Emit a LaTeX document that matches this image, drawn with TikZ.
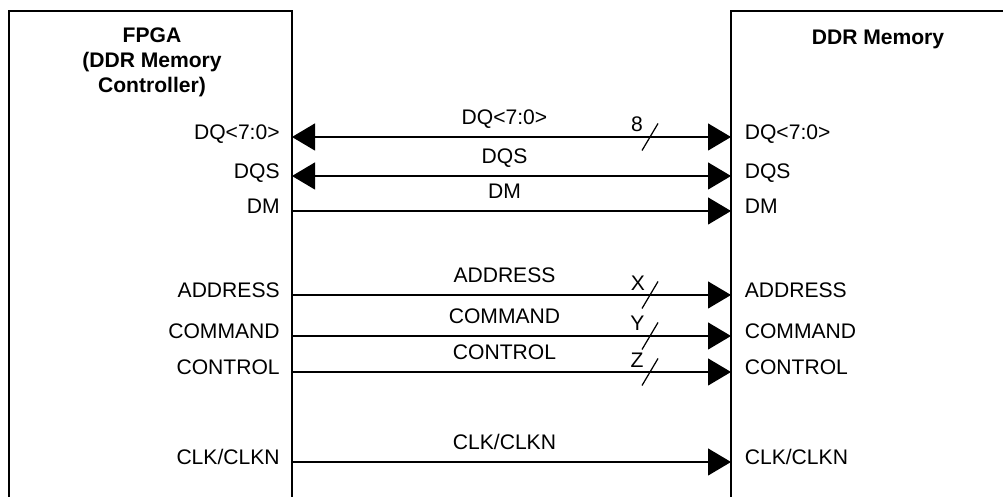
\documentclass[tikz,border=0pt]{standalone}
\usepackage{fontspec}
\setmainfont{Liberation Sans}
\usetikzlibrary{arrows.meta}

\begin{document}
\begin{tikzpicture}[
  font=\fontsize{12}{14}\selectfont,
  box/.style={line width=0.7pt},
  title/.style={font=\fontsize{12}{14.2}\selectfont\bfseries,align=center},
  port/.style={inner xsep=0.24cm,inner ysep=0pt,text height=0.30cm,text depth=0.18cm},
  fport/.style={port,anchor=east},
  mport/.style={port,anchor=west,inner xsep=0.27cm},
  siglbl/.style={port,inner xsep=0pt,pos=0.484,above=0.6mm},
  sig/.style={line width=0.7pt,-{Triangle[length=4.6mm,width=5.4mm]}},
  bidir/.style={line width=0.7pt,{Triangle[length=4.6mm,width=5.4mm]}-{Triangle[length=4.6mm,width=5.4mm]}},
  bus/.style={line width=0.7pt},
  buswd/.style={inner sep=0pt}
]
\useasboundingbox (0,0) rectangle (20.06,9.94);

% the two devices, open at the bottom
\draw[box] (0.18,0) -- (0.18,9.72) -- (5.84,9.72) -- (5.84,0);
\draw[box] (20.06,9.72) -- (14.62,9.72) -- (14.62,0);
\node[title] (fpga) at (3.04,8.70) {FPGA\\(DDR Memory\\Controller)};
\node[title] (ddr) at (17.56,9.16) {DDR Memory};

% pins on the controller side
\node[fport] (fdq) at (5.84,7.20) {DQ<7:0>};
\node[fport] (fdqs) at (5.84,6.42) {DQS};
\node[fport] (fdm) at (5.84,5.72) {DM};
\node[fport] (fadr) at (5.84,4.04) {ADDRESS};
\node[fport] (fcmd) at (5.84,3.22) {COMMAND};
\node[fport] (fctl) at (5.84,2.50) {CONTROL};
\node[fport] (fclk) at (5.84,0.70) {CLK/CLKN};

% pins on the memory side
\node[mport] (mdq) at (14.62,7.20) {DQ<7:0>};
\node[mport] (mdqs) at (14.62,6.42) {DQS};
\node[mport] (mdm) at (14.62,5.72) {DM};
\node[mport] (madr) at (14.62,4.04) {ADDRESS};
\node[mport] (mcmd) at (14.62,3.22) {COMMAND};
\node[mport] (mctl) at (14.62,2.50) {CONTROL};
\node[mport] (mclk) at (14.62,0.70) {CLK/CLKN};

% signals
\draw[bidir] (fdq.east) -- node[siglbl]{DQ<7:0>} coordinate[pos=0.8155] (dqbus) (mdq.west);
\draw[bidir] (fdqs.east) -- node[siglbl]{DQS} (mdqs.west);
\draw[sig] (fdm.east) -- node[siglbl]{DM} (mdm.west);
\draw[sig] (fadr.east) -- node[siglbl]{ADDRESS} coordinate[pos=0.8155] (adrbus) (madr.west);
\draw[sig] (fcmd.east) -- node[siglbl]{COMMAND} coordinate[pos=0.8155] (cmdbus) (mcmd.west);
\draw[sig] (fctl.east) -- node[siglbl]{CONTROL} coordinate[pos=0.8155] (ctlbus) (mctl.west);
\draw[sig] (fclk.east) -- node[siglbl]{CLK/CLKN} (mclk.west);

% bus width marks
\draw[bus] (dqbus) ++(-0.16,-0.27) -- ++(0.32,0.54);
\draw[bus] (adrbus) ++(-0.16,-0.27) -- ++(0.32,0.54);
\draw[bus] (cmdbus) ++(-0.16,-0.27) -- ++(0.32,0.54);
\draw[bus] (ctlbus) ++(-0.16,-0.27) -- ++(0.32,0.54);
\node[buswd] (dqwd) at ([shift={(-0.26,0.26)}]dqbus) {8};
\node[buswd] (adrwd) at ([shift={(-0.24,0.24)}]adrbus) {X};
\node[buswd] (cmdwd) at ([shift={(-0.25,0.26)}]cmdbus) {Y};
\node[buswd] (ctlwd) at ([shift={(-0.26,0.24)}]ctlbus) {Z};
\end{tikzpicture}
\end{document}
